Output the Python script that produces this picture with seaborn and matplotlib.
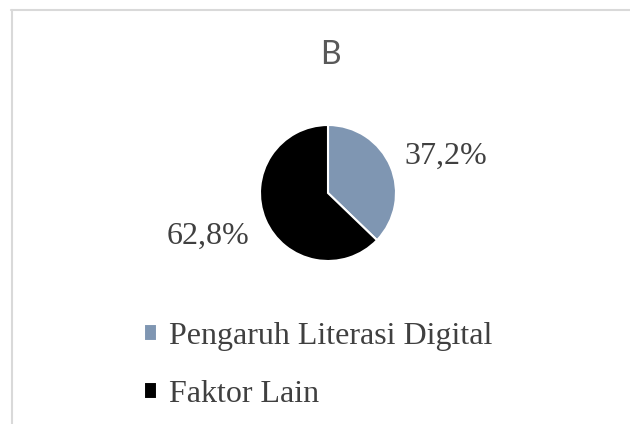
import matplotlib
matplotlib.use("Agg")
import matplotlib.pyplot as plt
from matplotlib.lines import Line2D
import seaborn as sns

# data
title = "B"
categories = ["Pengaruh Literasi Digital", "Faktor Lain"]
shares = [37.2, 62.8]
slice_colors = ["#7f96b2", "#000000"]

sns.set_style("white")
text_grey = "#404040"
serif = ["Liberation Serif", "DejaVu Serif"]

fig = plt.figure(figsize=(6.3, 4.24), dpi=100)

# pie axes: centre ~(328,193) px, radius ~68 px
ax = fig.add_axes([226 / 630, 129 / 424, 204 / 630, 204 / 424])
labels = [("%.1f%%" % v).replace(".", ",") for v in shares]
wedges, texts = ax.pie(shares, colors=slice_colors, startangle=90, counterclock=False,
                       labels=labels, labeldistance=1.22,
                       wedgeprops=dict(edgecolor="white", linewidth=1.5),
                       textprops=dict(fontsize=23, color=text_grey, family=serif))
# excel-style placement: nudge the labels a little
x0, y0 = texts[0].get_position()
texts[0].set_position((x0, y0 + 0.06))
x1, y1 = texts[1].get_position()
texts[1].set_position((x1 - 0.03, y1 - 0.16))
for t in texts:
    t.set_clip_on(False)
ax.set_xlim(-1.5, 1.5)
ax.set_ylim(-1.5, 1.5)
ax.set_aspect("equal")
ax.axis("off")

fig.text(330 / 630, 1 - 55 / 424, title, ha="center", va="center",
         fontsize=23, color="#595959", family=["Lato", "DejaVu Sans"])

leg = fig.legend(wedges, categories, loc="upper left", bbox_to_anchor=(144 / 630, 1 - 322 / 424),
                 frameon=False, borderpad=0, borderaxespad=0,
                 handlelength=0.42, handleheight=0.42, handletextpad=0.35, labelspacing=0.9,
                 prop=dict(family=serif, size=23))
for t in leg.get_texts():
    t.set_color(text_grey)

# light grey frame of the cropped chart area
frame = "#d9d9d9"
fig.add_artist(Line2D([11 / 630, 1], [1 - 9.5 / 424, 1 - 9.5 / 424], color=frame, linewidth=1.5,
                      transform=fig.transFigure))
fig.add_artist(Line2D([11.5 / 630, 11.5 / 630], [0, 1 - 9.5 / 424], color=frame, linewidth=1.5,
                      transform=fig.transFigure))

fig.savefig("out.png", dpi=100, facecolor="white")
